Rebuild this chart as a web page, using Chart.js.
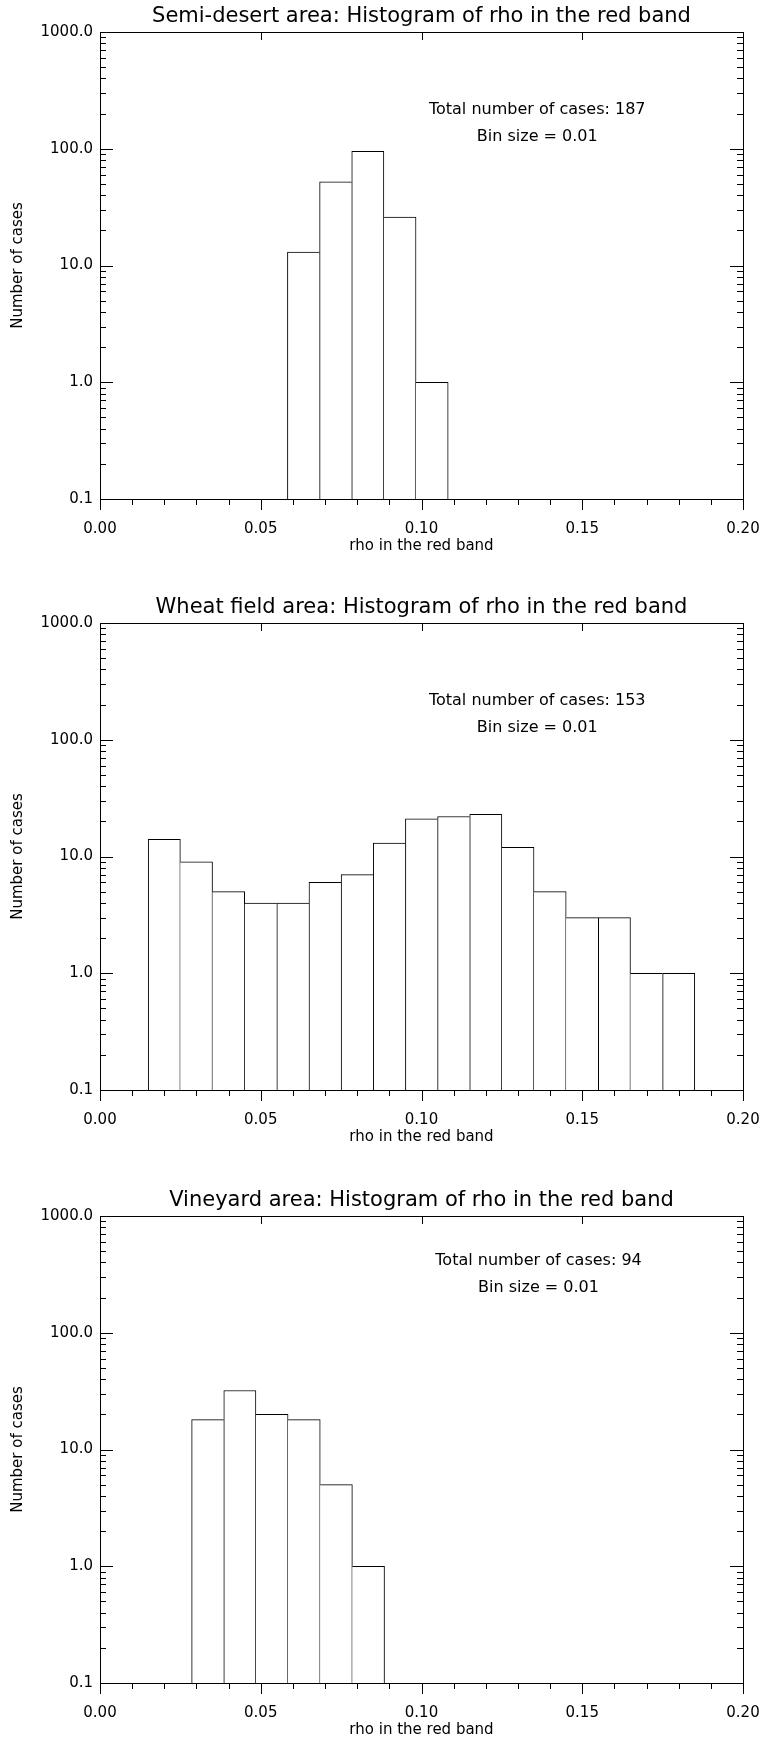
<!DOCTYPE html>
<html>
<head>
<meta charset="utf-8">
<script src="https://cdn.jsdelivr.net/npm/chart.js@4.4.1/dist/chart.umd.min.js"></script>
<style>
    body { margin: 0; background: #fff; }
    .plot { position: absolute; left: 0; width: 764px; height: 555px; }
</style>
</head>
<body>
<div class="plot" style="top: 0px;"><canvas id="desertChart" width="764" height="555"></canvas></div>
<div class="plot" style="top: 591px;"><canvas id="wheatChart" width="764" height="555"></canvas></div>
<div class="plot" style="top: 1184px;"><canvas id="vineyardChart" width="764" height="555"></canvas></div>
<script>
const binSize = 0.01
const xTickLabels = ['0.00', '0.05', '0.10', '0.15', '0.20']
const yTickLabels = ['0.1', '1.0', '10.0', '100.0', '1000.0']

// bin centres and counts
const desertBins = [0.0633, 0.0733, 0.0833, 0.0933, 0.1033]
const desertCounts = [13, 52, 95, 26, 1]

const wheatBins = [0.02, 0.03, 0.04, 0.05, 0.06, 0.07, 0.08, 0.09, 0.10, 0.11, 0.12, 0.13, 0.14, 0.15, 0.16, 0.17, 0.18]
const wheatCounts = [14, 9, 5, 4, 4, 6, 7, 13, 21, 22, 23, 12, 5, 3, 3, 1, 1]

const vineyardBins = [0.0335, 0.0435, 0.0535, 0.0635, 0.0735, 0.0835]
const vineyardCounts = [18, 32, 20, 18, 5, 1]

Chart.defaults.font.family = '"DejaVu Sans", sans-serif'
Chart.defaults.color = '#000'

function isFifth(v) {
    const k = v / 0.05
    return Math.abs(k - Math.round(k)) < 1e-6
}

function isDecade(v) {
    const e = Math.log10(v)
    return Math.abs(e - Math.round(e)) < 1e-6
}

// IDL style frame: ticks inside on the left/right/top, outside at the bottom
const idlFrame = {
    id: 'idlFrame',
    afterDraw(chart, args, opts) {
        const ctx = chart.ctx
        const a = chart.chartArea
        const x = chart.scales.x
        const y = chart.scales.y
        ctx.save()
        ctx.strokeStyle = '#000'
        ctx.lineWidth = 1
        ctx.beginPath()
        x.ticks.forEach(t => {
            const px = Math.round(x.getPixelForValue(t.value)) + 0.5
            const major = isFifth(t.value)
            ctx.moveTo(px, a.bottom)
            ctx.lineTo(px, a.bottom + (major ? 11 : 6))
            if (major) {
                ctx.moveTo(px, a.top)
                ctx.lineTo(px, a.top + 8)
            }
        })
        y.ticks.forEach(t => {
            const py = Math.round(y.getPixelForValue(t.value)) + 0.5
            const len = isDecade(t.value) ? 13 : 6
            ctx.moveTo(a.left, py)
            ctx.lineTo(a.left + len, py)
            ctx.moveTo(a.right, py)
            ctx.lineTo(a.right - len, py)
        })
        ctx.stroke()

        ctx.font = '16px "DejaVu Sans"'
        ctx.fillStyle = '#000'
        ctx.textAlign = 'center'
        ctx.textBaseline = 'middle'
        opts.lines.forEach((s, i) => {
            ctx.fillText(s, a.left + a.width * opts.x, a.top + a.height * opts.y[i])
        })
        ctx.restore()
    }
}

function edgeWidths(c) {
    const d = c.dataset.data
    const i = c.dataIndex
    const v = d[i].y
    const prev = d[i - 1]
    const next = d[i + 1]
    return {
        top: 1,
        bottom: 0,
        left: (!prev || prev.y <= v) ? 1 : 0,
        right: (!next || next.y < v) ? 1 : 0
    }
}

// fixed axis sizes so the plot box lands where the original one is
function fixSize(w, h) {
    return s => {
        if (w !== null) s.width = w
        if (h !== null) s.height = h
        s.paddingLeft = 0
        s.paddingRight = 0
        s.paddingTop = 0
        s.paddingBottom = 0
    }
}

function showHistogram(id, title, bins, counts, note) {
    const total = counts.reduce((s, n) => s + n, 0)
    const ctx = document.getElementById(id).getContext('2d')
    const frameAxis = {
        border: { display: true, color: '#000', width: 1 },
        grid: { display: false, drawTicks: false },
        ticks: { display: false }
    }
    new Chart(ctx, {
        type: 'bar',
        data: {
            datasets: [{
                data: bins.map((b, i) => ({ x: b, y: counts[i] })),
                backgroundColor: '#fff',
                borderColor: '#000',
                borderWidth: edgeWidths,
                borderSkipped: false,
                barPercentage: 1,
                categoryPercentage: 1
            }]
        },
        options: {
            responsive: false,
            animation: false,
            layout: { padding: 0 },
            scales: {
                x: {
                    type: 'linear',
                    position: 'bottom',
                    min: 0,
                    max: 0.2,
                    offset: false,
                    grid: { display: false, drawTicks: false, offset: false },
                    border: { display: true, color: '#000', width: 1 },
                    ticks: {
                        stepSize: binSize,
                        autoSkip: false,
                        maxRotation: 0,
                        padding: 21,
                        font: { size: 15 },
                        callback: v => isFifth(v) ? xTickLabels[Math.round(v / 0.05)] : ''
                    },
                    title: {
                        display: true,
                        text: 'rho in the red band',
                        font: { size: 15 },
                        padding: { top: 0, bottom: 0 }
                    },
                    afterFit: fixSize(null, 56)
                },
                x2: {
                    type: 'linear',
                    position: 'top',
                    min: 0,
                    max: 0.2,
                    ...frameAxis,
                    afterFit: fixSize(null, 0)
                },
                y: {
                    type: 'logarithmic',
                    position: 'left',
                    min: 0.1,
                    max: 1000,
                    grid: { display: false, drawTicks: false },
                    border: { display: true, color: '#000', width: 1 },
                    ticks: {
                        autoSkip: false,
                        padding: 7,
                        font: { size: 15 },
                        callback: v => isDecade(v) ? yTickLabels[Math.round(Math.log10(v)) + 1] : ''
                    },
                    afterBuildTicks: s => {
                        // keep 1..9 x 10^n only
                        s.ticks = s.ticks.filter(t => {
                            const m = t.value / Math.pow(10, Math.floor(Math.log10(t.value) + 1e-9))
                            return Math.abs(m - Math.round(m)) < 1e-6
                        })
                    },
                    title: {
                        display: true,
                        text: 'Number of cases',
                        font: { size: 15 },
                        padding: { top: 9, bottom: 0 }
                    },
                    afterFit: fixSize(100, null)
                },
                y2: {
                    type: 'logarithmic',
                    position: 'right',
                    min: 0.1,
                    max: 1000,
                    ...frameAxis,
                    afterFit: fixSize(21, null)
                }
            },
            plugins: {
                legend: { display: false },
                tooltip: { enabled: false },
                title: {
                    display: true,
                    text: title,
                    fullSize: false,
                    color: '#000',
                    font: { size: 21, weight: 'normal', lineHeight: '22px' },
                    padding: { top: 6, bottom: 4 }
                },
                idlFrame: {
                    lines: ['Total number of cases: ' + total, 'Bin size = ' + binSize.toFixed(2)],
                    x: note.x,
                    y: note.y
                }
            }
        },
        plugins: [idlFrame]
    })
}

showHistogram('desertChart', 'Semi-desert area: Histogram of rho in the red band', desertBins, desertCounts, { x: 0.68, y: [0.167, 0.225] })
showHistogram('wheatChart', 'Wheat field area: Histogram of rho in the red band', wheatBins, wheatCounts, { x: 0.68, y: [0.167, 0.225] })
showHistogram('vineyardChart', 'Vineyard area: Histogram of rho in the red band', vineyardBins, vineyardCounts, { x: 0.682, y: [0.096, 0.154] })
</script>
</body>
</html>
